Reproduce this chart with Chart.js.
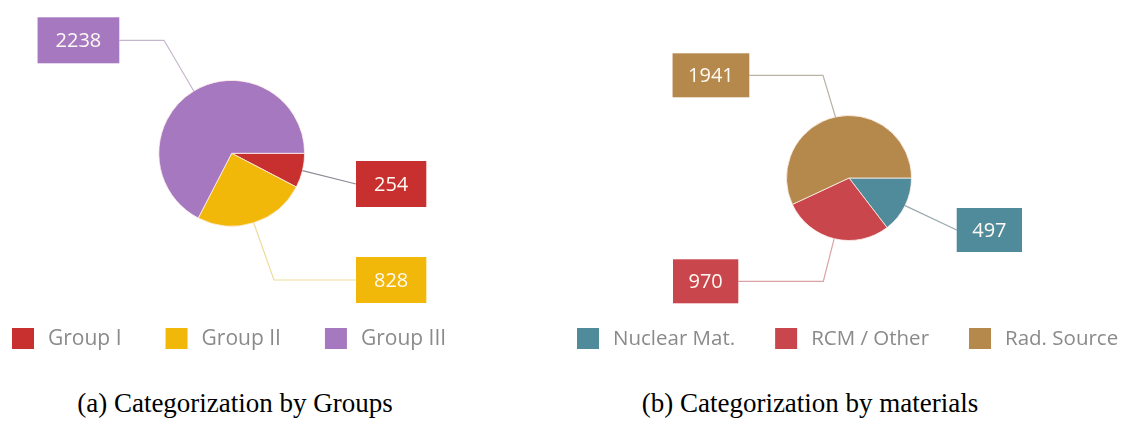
<!DOCTYPE html>
<html>
<head>
<meta charset="utf-8">
<script src="https://cdn.jsdelivr.net/npm/chart.js@4.4.0/dist/chart.umd.min.js"></script>
<style>
  html, body { margin: 0; padding: 0; background: #ffffff; }
  body { width: 1121px; height: 428px; position: relative; overflow: hidden; }
  canvas { position: absolute; top: 0; }
  #chartGroups { left: 0; }
  #chartMaterials { left: 560px; }
  .caption {
    position: absolute;
    font-family: "Liberation Serif", "Times New Roman", serif;
    font-size: 27px;
    color: #000;
    white-space: nowrap;
    transform: translateX(-50%);
    line-height: 1;
  }
</style>
</head>
<body>
<canvas id="chartGroups" width="560" height="370"></canvas>
<canvas id="chartMaterials" width="561" height="370"></canvas>
<div class="caption" style="left:235px; top:390px;">(a) Categorization by Groups</div>
<div class="caption" style="left:810px; top:390px;">(b) Categorization by materials</div>

<script>
// ---- data ----
const groupLabels = ['Group I', 'Group II', 'Group III'];
const groupCounts = [254, 828, 2238];

const materialLabels = ['Nuclear Mat.', 'RCM / Other', 'Rad. Source'];
const materialCounts = [497, 970, 1941];

// ---- styling ----
const groupColors = ['#c8302f', '#f1b80a', '#a678c0'];
const materialColors = ['#4f8b9b', '#c9474c', '#b5894b'];
const groupLineColors = ['#8f8c98', '#eedb9a', '#c6b6cd'];
const materialLineColors = ['#9aa9b0', '#d9a3a7', '#b9b2a6'];

// pie geometry (canvas-local) and callout placement relative to the pie centre
const layoutGroups = {
  cx: 231.7, cy: 153.3, r: 73.4,
  box: { h: 46, padX: 18, font: 20 },
  callouts: [
    { side: 'right', edgeDx: 124.3, dy: 30.7, elbowDx: null },
    { side: 'right', edgeDx: 124.3, dy: 126.7, elbowDx: 42.3 },
    { side: 'left', edgeDx: -112.4, dy: -113, elbowDx: -67.7 }
  ],
  legend: { x: 12, y: 328, sq: 22, sqH: 21, gapText: 14, gapItem: 44, font: 21 }
};
const layoutMaterials = {
  cx: 289, cy: 178, r: 63,
  box: { h: 44, padX: 15.5, font: 20 },
  callouts: [
    { side: 'right', edgeDx: 107.7, dy: 52, elbowDx: null },
    { side: 'left', edgeDx: -110.7, dy: 103.3, elbowDx: -25.7 },
    { side: 'left', edgeDx: -99.7, dy: -102.7, elbowDx: -26 }
  ],
  legend: { x: 17, y: 328, sq: 22, sqH: 21, gapText: 14, gapItem: 40, font: 20.5 }
};

const FONT = '"Open Sans", "Noto Sans", "DejaVu Sans", sans-serif';

// Draws leader lines + value boxes for every slice
const calloutPlugin = {
  id: 'callouts',
  afterDatasetsDraw(chart, args, opts) {
    const ctx = chart.ctx;
    const meta = chart.getDatasetMeta(0);
    const values = chart.data.datasets[0].data;
    const colors = chart.data.datasets[0].backgroundColor;
    const L = opts.layout;
    meta.data.forEach((arc, i) => {
      const p = arc.getProps(['x', 'y', 'startAngle', 'endAngle', 'outerRadius'], true);
      const mid = (p.startAngle + p.endAngle) / 2;
      const sx = p.x + Math.cos(mid) * p.outerRadius;
      const sy = p.y + Math.sin(mid) * p.outerRadius;
      const c = L.callouts[i];
      const by = p.y + c.dy;
      const bx = p.x + c.edgeDx;
      ctx.save();
      ctx.strokeStyle = opts.lineColors[i];
      ctx.lineWidth = 1.2;
      ctx.beginPath();
      ctx.moveTo(sx, sy);
      if (c.elbowDx !== null) ctx.lineTo(p.x + c.elbowDx, by);
      ctx.lineTo(bx, by);
      ctx.stroke();

      const label = String(values[i]);
      ctx.font = L.box.font + 'px ' + FONT;
      const tw = ctx.measureText(label).width;
      const w = tw + 2 * L.box.padX;
      const left = c.side === 'right' ? bx : bx - w;
      ctx.fillStyle = colors[i];
      ctx.fillRect(left, by - L.box.h / 2, w, L.box.h);
      ctx.fillStyle = '#fffaf3';
      ctx.textAlign = 'center';
      ctx.textBaseline = 'middle';
      ctx.fillText(label, left + w / 2, by + 1);
      ctx.restore();
    });
  }
};

// Legend row of coloured squares and category names under each pie
const legendPlugin = {
  id: 'squareLegend',
  afterDraw(chart, args, opts) {
    const ctx = chart.ctx;
    const L = opts.layout.legend;
    const labels = chart.data.labels;
    const colors = chart.data.datasets[0].backgroundColor;
    ctx.save();
    ctx.font = L.font + 'px ' + FONT;
    ctx.textBaseline = 'middle';
    ctx.textAlign = 'left';
    let x = L.x;
    labels.forEach((lab, i) => {
      ctx.fillStyle = colors[i];
      ctx.fillRect(x, L.y, L.sq, L.sqH);
      const tx = x + L.sq + L.gapText;
      ctx.fillStyle = '#8a8a8a';
      ctx.fillText(lab, tx, L.y + L.sqH / 2 + 1);
      x = tx + ctx.measureText(lab).width + L.gapItem;
    });
    ctx.restore();
  }
};

function makePie(canvasId, labels, values, colors, lineColors, layout) {
  const cv = document.getElementById(canvasId);
  const W = cv.width, H = cv.height;
  return new Chart(cv, {
    type: 'pie',
    data: {
      labels: labels,
      datasets: [{
        data: values,
        backgroundColor: colors,
        borderColor: 'rgba(255,240,235,0.8)',
        borderWidth: 1
      }]
    },
    options: {
      responsive: false,
      animation: false,
      rotation: 90,
      layout: {
        padding: {
          left: layout.cx - layout.r,
          top: layout.cy - layout.r,
          right: W - layout.cx - layout.r,
          bottom: H - layout.cy - layout.r
        }
      },
      plugins: {
        legend: { display: false },
        tooltip: { enabled: false },
        callouts: { layout: layout, lineColors: lineColors },
        squareLegend: { layout: layout }
      }
    },
    plugins: [calloutPlugin, legendPlugin]
  });
}

makePie('chartGroups', groupLabels, groupCounts, groupColors, groupLineColors, layoutGroups);
makePie('chartMaterials', materialLabels, materialCounts, materialColors, materialLineColors, layoutMaterials);
</script>
</body>
</html>
